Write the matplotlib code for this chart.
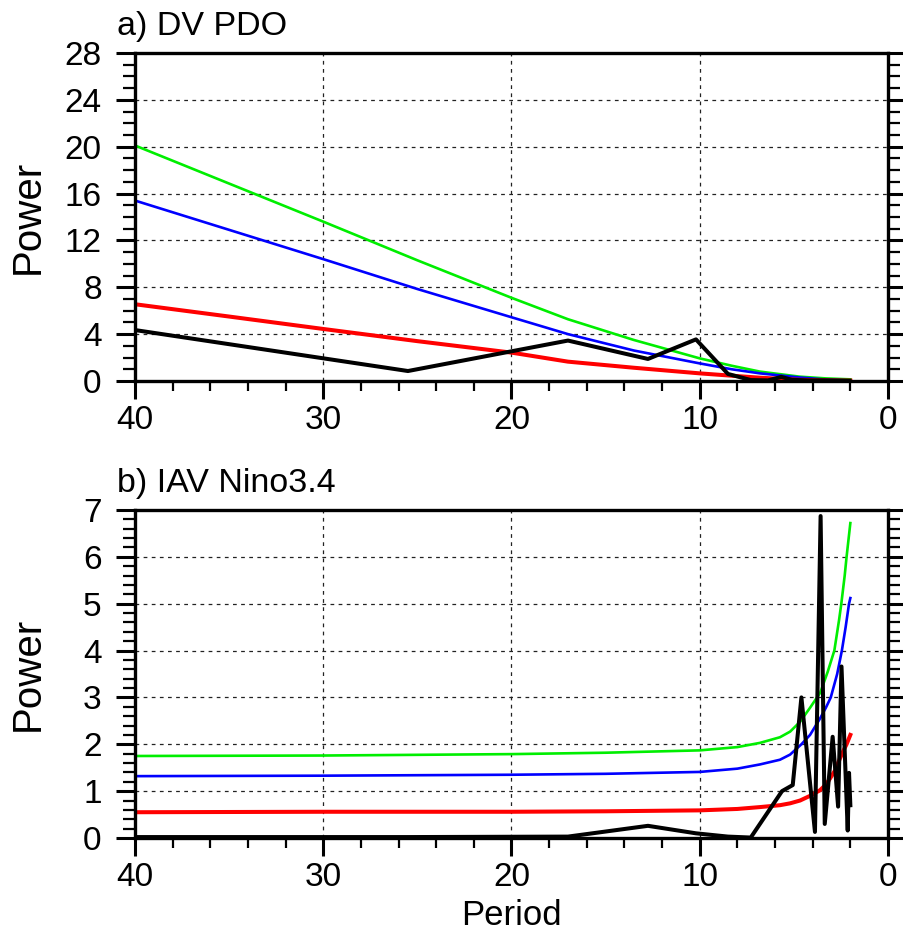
import numpy as np
import matplotlib
matplotlib.use("Agg")
import matplotlib.pyplot as plt
from matplotlib.ticker import MultipleLocator

plt.rcParams['font.family'] = ['Liberation Sans', 'DejaVu Sans']

# ---- panel a) DV PDO ----
per_a_obs = [51, 25.5, 17, 12.75, 10.2, 8.5, 7.29, 6.375, 5.67, 5.1, 4.25, 3.4, 2.55, 2.04]
pow_a_obs = [7.0, 0.85, 3.45, 1.88, 3.55, 0.6, 0.08, 0.05, 0.35, 0.1, 0.05, 0.05, 0.03, 0.02]

per_a_fit = [40, 35, 30, 25, 20, 17, 13.5, 10, 8.3, 6.8, 4.7, 3.3, 2]
red_a = [6.55, 5.5, 4.44, 3.4, 2.42, 1.65, 1.13, 0.65, 0.45, 0.28, 0.1, 0.05, 0.03]
blue_a = [15.4, 12.9, 10.4, 7.85, 5.44, 4.0, 2.6, 1.5, 1.0, 0.65, 0.3, 0.12, 0.05]
green_a = [20.1, 16.85, 13.6, 10.3, 7.1, 5.27, 3.5, 1.93, 1.3, 0.8, 0.37, 0.22, 0.14]

# ---- panel b) IAV Nino3.4 ----
per_b_obs = [51, 25.5, 17, 12.75, 10.2, 8.5, 7.29, 5.63, 5.06, 4.6, 3.88, 3.58,
             3.36, 2.94, 2.65, 2.47, 2.14, 2.07, 2.0]
pow_b_obs = [0.02, 0.02, 0.03, 0.26, 0.1, 0.03, 0.01, 1.0, 1.13, 3.0, 0.13, 6.87,
             0.3, 2.16, 0.67, 3.66, 0.16, 1.39, 0.7]

per_b_red = [40, 30, 20, 15, 10, 8, 6.8, 5.74, 5.2, 4.67, 4.14, 3.61, 3.3, 3.08,
             2.8, 2.55, 2.35, 2.2, 2.0]
red_b = [0.55, 0.56, 0.56, 0.57, 0.59, 0.62, 0.66, 0.7, 0.74, 0.8, 0.9, 1.02, 1.14,
         1.27, 1.45, 1.7, 1.88, 2.0, 2.2]
per_b_blue = [40, 30, 20, 15, 10, 8, 6.8, 5.74, 5.2, 4.6, 4.14, 3.61, 3.3, 3.04,
              2.7, 2.45, 2.25, 2.07, 2.0]
blue_b = [1.32, 1.33, 1.35, 1.37, 1.41, 1.48, 1.57, 1.67, 1.78, 2.0, 2.2, 2.55, 2.78,
          3.0, 3.5, 4.0, 4.5, 5.0, 5.12]
per_b_green = [40, 30, 20, 15, 10, 8, 6.8, 5.74, 5.2, 4.67, 4.14, 3.6, 3.2, 2.85,
               2.6, 2.48, 2.3, 2.2, 2.0]
green_b = [1.75, 1.76, 1.79, 1.82, 1.87, 1.94, 2.03, 2.15, 2.27, 2.48, 2.78, 3.1, 3.55,
           4.0, 4.65, 5.0, 5.6, 6.0, 6.72]

GREEN = '#00ee00'
BLUE = '#0000ff'
RED = '#ff0000'

fig = plt.figure(figsize=(9.04, 9.40), dpi=100)
ax1 = fig.add_axes([0.1493, 0.5947, 0.833, 0.349])
ax2 = fig.add_axes([0.1493, 0.1085, 0.833, 0.349])


def style(ax, ymax, ymajor, yminor):
    ax.set_xlim(40, 0)
    ax.set_ylim(0, ymax)
    ax.xaxis.set_major_locator(MultipleLocator(10))
    ax.xaxis.set_minor_locator(MultipleLocator(2))
    ax.yaxis.set_major_locator(MultipleLocator(ymajor))
    ax.yaxis.set_minor_locator(MultipleLocator(yminor))
    ax.tick_params(axis='x', which='major', direction='out', length=13, width=2.2,
                   labelsize=24, pad=4, top=False)
    ax.tick_params(axis='x', which='minor', direction='out', length=7.5, width=1.6, top=False)
    ax.tick_params(axis='y', which='major', direction='out', length=14, width=2.2,
                   labelsize=24, pad=10, right=True)
    ax.tick_params(axis='y', which='minor', direction='out', length=8.5, width=1.6, right=True)
    for s in ax.spines.values():
        s.set_linewidth(2.4)
    ax.grid(True, which='major', color='#222222', linestyle=(0, (3, 3.5)), linewidth=0.9)
    ax.set_ylabel('Power', fontsize=29)
    ax.yaxis.set_label_coords(-0.117, 0.5)


style(ax1, 28, 4, 1)
ax1.plot(per_a_fit, green_a, color=GREEN, lw=1.9)
ax1.plot(per_a_fit, blue_a, color=BLUE, lw=1.9)
ax1.plot(per_a_fit, red_a, color=RED, lw=2.9)
ax1.plot(per_a_obs, pow_a_obs, color='black', lw=2.9)
fig.text(0.1294, 0.9628, 'a) DV PDO', fontsize=24.5, ha='left', va='baseline')

style(ax2, 7, 1, 0.2)
ax2.plot(per_b_green, green_b, color=GREEN, lw=1.9)
ax2.plot(per_b_blue, blue_b, color=BLUE, lw=1.9)
ax2.plot(per_b_red, red_b, color=RED, lw=2.9)
ax2.plot(per_b_obs, pow_b_obs, color='black', lw=2.9)
fig.text(0.1294, 0.4769, 'b) IAV Nino3.4', fontsize=24.5, ha='left', va='baseline')
ax2.set_xlabel('Period', fontsize=25)
ax2.xaxis.set_label_coords(0.5, -0.185)

plt.savefig('out.png', dpi=100)
